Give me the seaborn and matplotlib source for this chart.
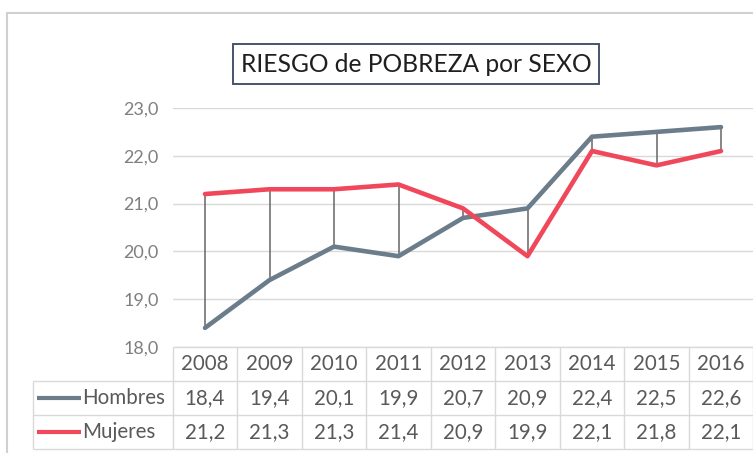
import numpy as np
import pandas as pd
import matplotlib
matplotlib.use("Agg")
import matplotlib.pyplot as plt
import seaborn as sns
from matplotlib.lines import Line2D
from matplotlib.patches import Rectangle

# ---------------- data ----------------
years = ["2008", "2009", "2010", "2011", "2012", "2013", "2014", "2015", "2016"]
hombres = [18.4, 19.4, 20.1, 19.9, 20.7, 20.9, 22.4, 22.5, 22.6]
mujeres = [21.2, 21.3, 21.3, 21.4, 20.9, 19.9, 22.1, 21.8, 22.1]
series_names = ["Hombres", "Mujeres"]
y_ticks = [18, 19, 20, 21, 22, 23]
title = "RIESGO de POBREZA por SEXO"

colors = {"Hombres": "#6B7C8A", "Mujeres": "#F0475B"}
txt_col = "#595959"
grid_col = "#D9D9D9"

sns.set_theme(style="white")
plt.rcParams['font.family'] = ['Lato', 'DejaVu Sans']

W, H = 753, 453
fig = plt.figure(figsize=(W / 100, H / 100), dpi=100)


def fx(px):
    return px / W


def fy(py):
    return 1 - py / H


col_w = 64.5
plot_left = 172.75
plot_top, plot_bot = 108, 347
tab_left, tab_bot = 33, 449

# ---------------- main plot ----------------
ax = fig.add_axes([fx(plot_left), fy(plot_bot), fx(9 * col_w), (plot_bot - plot_top) / H])
ax.set_facecolor("none")

df = pd.DataFrame({
    "pos": list(range(len(years))) * 2,
    "valor": hombres + mujeres,
    "serie": [series_names[0]] * len(years) + [series_names[1]] * len(years),
})

# high-low lines
lo = np.minimum(hombres, mujeres)
hi = np.maximum(hombres, mujeres)
ax.vlines(range(len(years)), lo, hi, color="#666666", lw=1.1, zorder=2)

sns.lineplot(data=df, x="pos", y="valor", hue="serie", palette=colors,
             linewidth=3.3, sort=False, legend=False, ax=ax, zorder=3)

ax.set_xlim(-0.5, len(years) - 0.5)
ax.set_ylim(y_ticks[0], y_ticks[-1])
ax.set_yticks(y_ticks)
ax.set_yticklabels([f"{v:.1f}".replace(".", ",") for v in y_ticks],
                   color="#7F7F7F", fontsize=13)
ax.tick_params(axis="y", length=0, pad=10)
ax.set_xticks([])
ax.set_xlabel("")
ax.set_ylabel("")
for s in ax.spines.values():
    s.set_visible(False)
ax.yaxis.grid(True, color=grid_col, lw=1)
ax.set_axisbelow(True)

# ---------------- data table ----------------
left_units = -0.5 - (plot_left - tab_left) / col_w
tax = fig.add_axes([fx(tab_left), fy(tab_bot), fx(plot_left + 9 * col_w - tab_left),
                    (tab_bot - plot_bot) / H])
tax.set_xlim(left_units, len(years) - 0.5)
tax.set_ylim(3, 0)
tax.axis("off")

bcol = "#D9D9D9"
tax.hlines([0], -0.5, len(years) - 0.5, color=bcol, lw=1, clip_on=False)
tax.hlines([1, 2, 3], left_units, len(years) - 0.5, color=bcol, lw=1, clip_on=False)
tax.vlines(np.arange(-0.5, len(years), 1), 0, 3, color=bcol, lw=1, clip_on=False)
tax.vlines([left_units], 1, 3, color=bcol, lw=1, clip_on=False)

fs = 14.8
for i, y in enumerate(years):
    tax.text(i, 0.5, y, ha="center", va="center", fontsize=fs, color=txt_col)
for r, (name, vals) in enumerate(zip(series_names, [hombres, mujeres])):
    yy = 1.5 + r
    for i, v in enumerate(vals):
        tax.text(i, yy, f"{v:.1f}".replace(".", ","), ha="center", va="center",
                 fontsize=fs, color=txt_col)
    kx0 = left_units + (37 - tab_left) / col_w
    kx1 = left_units + (81 - tab_left) / col_w
    tax.plot([kx0, kx1], [yy, yy], color=colors[name], lw=3, solid_capstyle="butt",
             clip_on=False)
    tax.text(kx1 + 0.02, yy, name, ha="left", va="center", fontsize=fs, color=txt_col)

# ---------------- title with box ----------------
bx0, bx1, by0, by1 = 233, 599, 44, 84
fig.patches.append(Rectangle((fx(bx0), fy(by1)), fx(bx1 - bx0), (by1 - by0) / H,
                             fill=False, ec="#44546A", lw=1.4, transform=fig.transFigure))
fig.text(fx((bx0 + bx1) / 2), fy((by0 + by1) / 2), title, ha="center", va="center",
         fontsize=17.7, color="#1F1F1F")

# ---------------- chart border ----------------
fig.add_artist(Line2D([fx(7), fx(7)], [fy(13), 0], color="#D0D0D0", lw=1.5,
                      transform=fig.transFigure))
fig.add_artist(Line2D([fx(7), 1], [fy(13), fy(13)], color="#D0D0D0", lw=1.5,
                      transform=fig.transFigure))

fig.savefig("out.png", dpi=100)
